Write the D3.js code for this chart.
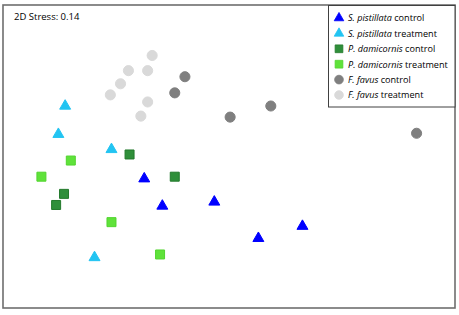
<!DOCTYPE html>
<html><head><meta charset="utf-8">
<script src="https://cdn.jsdelivr.net/npm/d3@7"></script>
<style>body{margin:0;background:#fff}svg{display:block}</style>
</head><body>
<script>
const stressLabel = "2D Stress: 0.14";
const groups = [
  {genus:"S. pistillata", cond:"control", shape:"triangle", color:"#0000ff", stroke:"#0000ff"},
  {genus:"S. pistillata", cond:"treatment", shape:"triangle", color:"#22c4f2", stroke:"#22c4f2"},
  {genus:"P. damicornis", cond:"control", shape:"square", color:"#2f8f3a", stroke:"#237a2c"},
  {genus:"P. damicornis", cond:"treatment", shape:"square", color:"#5fe23a", stroke:"#52d42f"},
  {genus:"F. favus", cond:"control", shape:"circle", color:"#7f7f7f", stroke:"#7f7f7f"},
  {genus:"F. favus", cond:"treatment", shape:"circle", color:"#d9d9d9", stroke:"#d9d9d9"}
];
const spControlX = [-0.75, -0.59, -0.13, 0.65, 0.26];
const spControlY = [-0.22, -0.49, -0.45, -0.69, -0.81];
const spTreatX = [-1.45, -1.51, -1.04, -1.19];
const spTreatY = [0.50, 0.22, 0.07, -1.00];
const pdControlX = [-0.88, -0.48, -1.46, -1.53];
const pdControlY = [0.02, -0.20, -0.37, -0.48];
const pdTreatX = [-1.40, -1.66, -1.04, -0.61];
const pdTreatY = [-0.04, -0.20, -0.65, -0.97];
const ffControlX = [-0.39, -0.48, 0.01, 0.37, 1.66];
const ffControlY = [0.79, 0.63, 0.39, 0.50, 0.23];
const ffTreatX = [-0.68, -0.89, -0.72, -0.96, -1.05, -0.72, -0.78];
const ffTreatY = [1.00, 0.85, 0.85, 0.72, 0.61, 0.54, 0.40];
const xs = [spControlX, spTreatX, pdControlX, pdTreatX, ffControlX, ffTreatX];
const ys = [spControlY, spTreatY, pdControlY, pdTreatY, ffControlY, ffTreatY];

const W = 459, H = 315;
const frame = {l:3, t:5, r:455, b:308};
const svg = d3.select("body").append("svg").attr("width", W).attr("height", H);
const x = d3.scaleLinear().domain([-2, 2]).range([frame.l, frame.r]);
const y = d3.scaleLinear().domain([-1.5, 1.5]).range([frame.b, frame.t]);

svg.append("rect").attr("x", frame.l).attr("y", frame.t)
  .attr("width", frame.r - frame.l).attr("height", frame.b - frame.t)
  .attr("fill", "#fff").attr("stroke", "#6e6e6e").attr("stroke-width", 1.6);

svg.append("text").attr("x", 14).attr("y", 20)
  .attr("font-family", "Open Sans, sans-serif").attr("font-size", 9.5).attr("fill", "#000")
  .text(stressLabel);

const symType = {triangle: d3.symbolTriangle, square: d3.symbolSquare, circle: d3.symbolCircle};
const symSize = {triangle: 52, square: 81, circle: 80};
const legSize = {triangle: 40, square: 60, circle: 60};

const order = [4, 5, 2, 3, 0, 1];
order.forEach(gi => {
  const g = groups[gi];
  const pts = xs[gi].map((v, i) => [v, ys[gi][i]]);
  svg.append("g").selectAll("path").data(pts).join("path")
    .attr("transform", d => `translate(${x(d[0])},${y(d[1])})`)
    .attr("d", d3.symbol().type(symType[g.shape]).size(symSize[g.shape]))
    .attr("fill", g.color).attr("stroke", g.stroke).attr("stroke-width", 1);
});

// legend
const leg = svg.append("g");
leg.append("rect").attr("x", 328.5).attr("y", 5.5).attr("width", 126.5).attr("height", 101.5)
  .attr("fill", "#fff").attr("stroke", "#404040").attr("stroke-width", 1);
groups.forEach((g, i) => {
  const cy = 18 + i * 15.4;
  leg.append("path").attr("transform", `translate(339,${cy})`)
    .attr("d", d3.symbol().type(symType[g.shape]).size(legSize[g.shape]))
    .attr("fill", g.color).attr("stroke", g.stroke).attr("stroke-width", 0.8);
  const t = leg.append("text").attr("x", 348).attr("y", cy + 3.3)
    .attr("font-family", "Open Sans, sans-serif").attr("font-size", 9.1).attr("fill", "#000");
  t.append("tspan").attr("font-style", "italic").text(g.genus);
  t.append("tspan").text(" " + g.cond);
});
</script>
</body></html>
